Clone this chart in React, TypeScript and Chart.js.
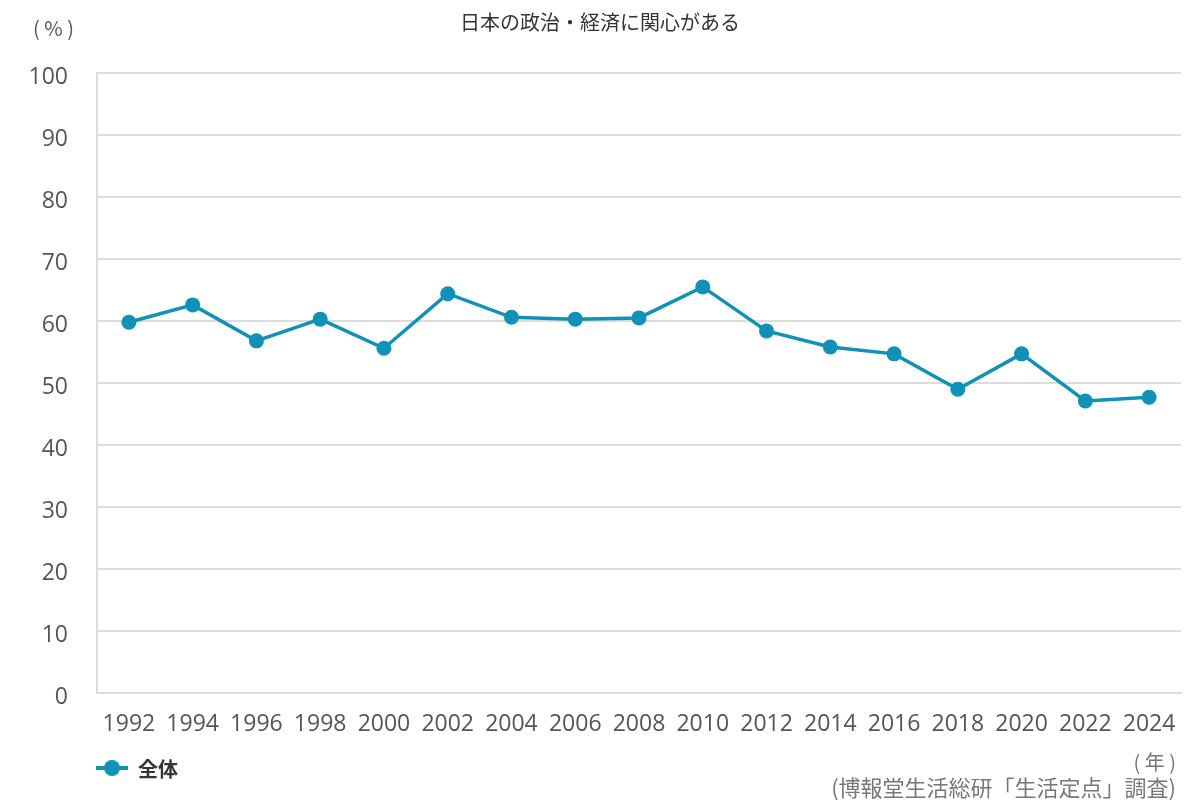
import React, { useEffect, useRef } from "react";
import { Chart, registerables } from "chart.js";

Chart.register(...registerables);

const years = ["1992","1994","1996","1998","2000","2002","2004","2006","2008","2010","2012","2014","2016","2018","2020","2022","2024"];
const values = [59.8, 62.6, 56.8, 60.3, 55.6, 64.4, 60.6, 60.3, 60.5, 65.5, 58.4, 55.8, 54.7, 49.0, 54.7, 47.1, 47.7];
const seriesName = "全体";
const title = "日本の政治・経済に関心がある";
const yUnit = "( % )";
const xUnit = "( 年 )";
const source = "(博報堂生活総研「生活定点」調査)";

const LINE = "#1092b8";
const FONT = "'Noto Sans CJK JP', 'Noto Sans', sans-serif";
const TICK_FONT = "'Open Sans', 'Noto Sans CJK JP', sans-serif";

export default function App() {
  const ref = useRef<HTMLCanvasElement | null>(null);
  useEffect(() => {
    if (!ref.current) return;
    const chart = new Chart(ref.current, {
      type: "line",
      data: {
        labels: years,
        datasets: [
          {
            label: seriesName,
            data: values,
            borderColor: LINE,
            backgroundColor: LINE,
            borderWidth: 3.5,
            pointRadius: 7.5,
            pointBackgroundColor: LINE,
            pointBorderWidth: 0,
            tension: 0,
          },
        ],
      },
      options: {
        animation: false,
        responsive: false,
        maintainAspectRatio: false,
        layout: { padding: { top: 73, left: 0, right: 19, bottom: 0 } },
        plugins: { legend: { display: false }, title: { display: false }, tooltip: { enabled: false } },
        scales: {
          x: {
            offset: true,
            grid: { display: false, drawTicks: false },
            border: { display: true, color: "#dcdcdc", width: 2 },
            ticks: { color: "#555", font: { family: TICK_FONT, size: 23 }, padding: 18, maxRotation: 0, autoSkip: false },
            afterFit: (s: any) => { s.height = 107; },
          },
          y: {
            min: 0,
            max: 100,
            grid: { color: "#dcdcdc", lineWidth: 2, drawTicks: false },
            border: { display: true, color: "#dcdcdc", width: 2 },
            ticks: { stepSize: 10, color: "#555", font: { family: TICK_FONT, size: 23 }, padding: 29, labelOffset: 4 },
            afterFit: (s: any) => { s.width = 97; },
          },
        },
      },
    });
    return () => chart.destroy();
  }, []);

  return (
    <div style={{ position: "absolute", left: 0, top: 0, width: 1200, height: 800, background: "#fff", fontFamily: FONT }}>
      <canvas ref={ref} width={1200} height={800} style={{ position: "absolute", left: 0, top: 0 }} />
      <div style={{ position: "absolute", left: 0, width: 1200, top: 10, textAlign: "center", fontSize: 20, color: "#333", lineHeight: "24px" }}>{title}</div>
      <div style={{ position: "absolute", left: 33, top: 16, fontSize: 20, color: "#555", lineHeight: "24px", whiteSpace: "pre" }}>{yUnit}</div>
      <div style={{ position: "absolute", left: 96, top: 754, display: "flex", alignItems: "center", height: 28 }}>
        <div style={{ position: "relative", width: 32, height: 28 }}>
          <div style={{ position: "absolute", left: 0, top: 12, width: 32, height: 4, background: LINE }} />
          <div style={{ position: "absolute", left: 8, top: 6, width: 16, height: 16, borderRadius: 8, background: LINE }} />
        </div>
        <span style={{ marginLeft: 10, fontSize: 20, fontWeight: 700, color: "#333" }}>{seriesName}</span>
      </div>
      <div style={{ position: "absolute", right: 24, top: 750, fontSize: 20, color: "#777", lineHeight: "24px", whiteSpace: "pre" }}>{xUnit}</div>
      <div style={{ position: "absolute", right: 24, top: 773, fontSize: 22, color: "#777", lineHeight: "26px" }}>{source}</div>
    </div>
  );
}
